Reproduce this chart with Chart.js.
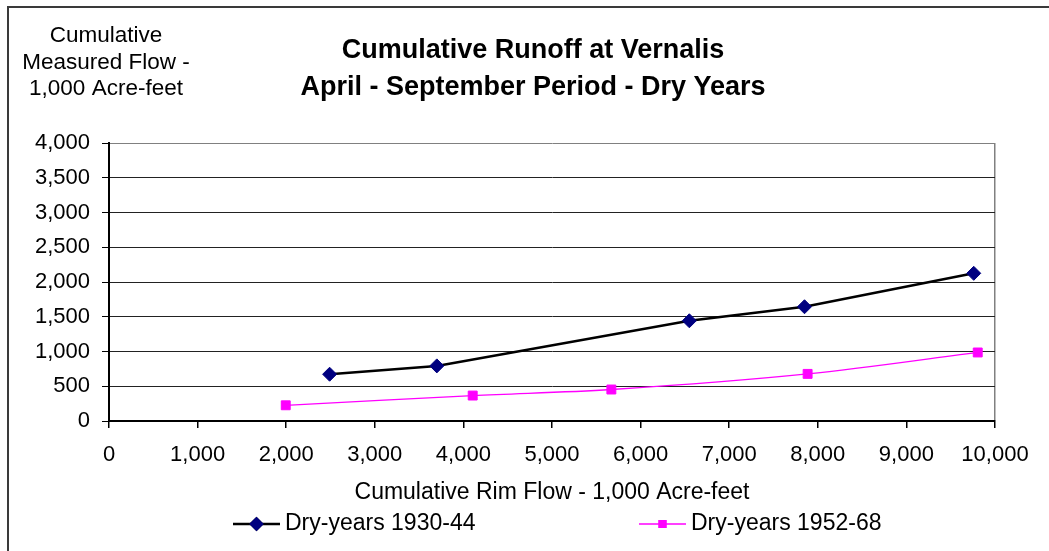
<!DOCTYPE html>
<html>
<head>
<meta charset="utf-8">
<title>Cumulative Runoff at Vernalis</title>
<script src="https://cdn.jsdelivr.net/npm/chart.js@4"></script>
<style>
    body { margin: 0; background: #fff; overflow: hidden; }
    #wrap { position: relative; width: 1049px; height: 551px; }
</style>
</head>
<body>
<div id="wrap"><canvas id="runoffChart" width="1049" height="551"></canvas></div>
<script>
// Values (1,000 acre-feet)
const seriesNames = ['Dry-years 1930-44', 'Dry-years 1952-68'];
const rimFlow3044 = [2490, 3700, 6550, 7850, 9760];
const measured3044 = [673, 793, 1442, 1644, 2125];
const rimFlow5268 = [1995, 4105, 5670, 7885, 9805];
const measured5268 = [226, 366, 453, 678, 986];

const titleLines = ['Cumulative Runoff at Vernalis', 'April - September Period - Dry Years'];
const yTitleLines = ['Cumulative', 'Measured Flow -', '1,000 Acre-feet'];
const xTitle = 'Cumulative Rim Flow - 1,000 Acre-feet';

const FONT = '"Liberation Sans", Arial, sans-serif';

function toPoints(xs, ys) {
    return xs.map((x, i) => ({ x: x, y: ys[i] }));
}

// frame, y-axis title and the legend are drawn here
const extras = {
    id: 'extras',
    afterDraw(chart) {
        const ctx = chart.ctx;
        ctx.save();
        // outer frame (runs off the right and bottom edges)
        ctx.strokeStyle = '#3a3a3a';
        ctx.lineWidth = 2;
        ctx.strokeRect(8, 7, 1100, 600);

        // y-axis title in the top-left corner
        ctx.fillStyle = '#000';
        ctx.font = '22.5px ' + FONT;
        ctx.textAlign = 'center';
        ctx.textBaseline = 'middle';
        yTitleLines.forEach((line, i) => ctx.fillText(line, 106, 36 + i * 26.5));

        // legend: line + marker + label
        const legendX = [233, 639];
        const y = 524;
        ctx.font = '23px ' + FONT;
        ctx.textAlign = 'left';
        chart.data.datasets.forEach((ds, i) => {
            const x0 = legendX[i];
            ctx.strokeStyle = ds.borderColor;
            ctx.lineWidth = ds.borderWidth;
            ctx.beginPath();
            ctx.moveTo(x0, y);
            ctx.lineTo(x0 + 47, y);
            ctx.stroke();
            Chart.helpers.drawPoint(ctx, {
                pointStyle: ds.pointStyle,
                radius: ds.pointRadius - 1.5,
                borderWidth: 1,
                rotation: 0
            }, x0 + 23.5, y);
            ctx.fillStyle = ds.pointBackgroundColor;
            ctx.strokeStyle = ds.pointBorderColor;
            ctx.fill();
            ctx.stroke();
            ctx.fillStyle = '#000';
            ctx.fillText(ds.label, x0 + 52, y);
        });
        ctx.restore();
    }
};

const ctx = document.getElementById('runoffChart').getContext('2d');
const chart = new Chart(ctx, {
    type: 'scatter',
    data: {
        datasets: [{
            label: seriesNames[0],
            data: toPoints(rimFlow3044, measured3044),
            showLine: true,
            borderColor: '#000000',
            borderWidth: 2.5,
            pointStyle: 'rectRot',
            pointRadius: 7,
            pointBackgroundColor: '#000080',
            pointBorderColor: '#000080',
            pointBorderWidth: 1,
            tension: 0
        }, {
            label: seriesNames[1],
            data: toPoints(rimFlow5268, measured5268),
            showLine: true,
            borderColor: '#ff00ff',
            borderWidth: 1.3,
            pointStyle: 'rect',
            pointRadius: 6.3,
            pointBackgroundColor: '#ff00ff',
            pointBorderColor: '#ff00ff',
            pointBorderWidth: 1,
            tension: 0.35
        }]
    },
    options: {
        responsive: false,
        animation: false,
        layout: {
            padding: { left: 17, right: 0, top: 0, bottom: 45 }
        },
        plugins: {
            legend: { display: false },
            tooltip: { enabled: false },
            title: {
                display: true,
                text: titleLines,
                color: '#000',
                font: { family: FONT, size: 27, weight: 'bold', lineHeight: '37px' },
                padding: { top: 32, bottom: 37 }
            }
        },
        scales: {
            x: {
                type: 'linear',
                min: 0,
                max: 10000,
                afterFit: s => { s.height = 85; s.paddingRight = 54; },
                ticks: {
                    stepSize: 1000,
                    color: '#000',
                    padding: 14,
                    maxRotation: 0,
                    font: { family: FONT, size: 22 }
                },
                grid: {
                    color: c => (c.tick && c.tick.value === 10000) ? '#808080' : 'transparent',
                    tickColor: '#000',
                    tickLength: 7,
                    lineWidth: 1.5
                },
                border: { display: true, color: '#000', width: 2 },
                title: {
                    display: true,
                    text: xTitle,
                    color: '#000',
                    font: { family: FONT, size: 23 },
                    padding: { top: 0, bottom: 0 }
                }
            },
            y: {
                type: 'linear',
                min: 0,
                max: 4000,
                afterFit: s => { s.width = 92; },
                ticks: {
                    stepSize: 500,
                    color: '#000',
                    padding: 12,
                    font: { family: FONT, size: 22 }
                },
                grid: {
                    color: c => (c.tick && c.tick.value === 4000) ? '#808080' : '#222',
                    tickColor: '#000',
                    tickLength: 7,
                    lineWidth: 1
                },
                border: { display: true, color: '#000', width: 2 }
            }
        }
    },
    plugins: [extras]
});
</script>
</body>
</html>
